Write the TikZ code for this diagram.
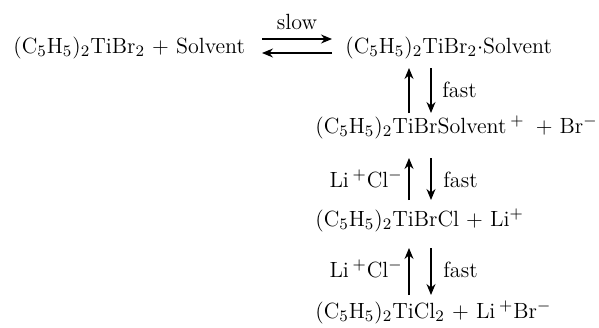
\documentclass[tikz,border=0pt]{standalone}
\usetikzlibrary{arrows.meta,positioning,calc}

\begin{document}
\begin{tikzpicture}[
  x=0.5pt, y=-0.5pt,
  font=\fontsize{11}{13}\selectfont,
  species/.style={inner sep=0pt, anchor=base west},
  cond/.style={inner sep=0pt},
  arrow/.style={-{Stealth[length=5.5pt,width=4.5pt,inset=1.8pt]}, line width=0.6pt},
]
\useasboundingbox (0,0) rectangle (599,327);

\node[species] (titbr) at (13,53) {(C$_5$H$_5$)$_2$TiBr$_2$ + Solvent};
\node[species] (adduct) at (345,53) {(C$_5$H$_5$)$_2$TiBr$_2$$\cdot$Solvent};
\node[species] (cation) at (315,133) {(C$_5$H$_5$)$_2$TiBrSolvent\hspace{2pt}$^+$\hspace{2pt} + Br$^-$};
\node[species] (brcl) at (315,226) {(C$_5$H$_5$)$_2$TiBrCl + Li$^+$};
\node[species] (cl2) at (315,318) {(C$_5$H$_5$)$_2$TiCl$_2$ + Li\,$^+$Br$^-$};

% equilibrium, slow step
\coordinate (fw) at (262,39);
\coordinate (fe) at (332,39);
\draw[arrow] (fw) -- (fe);
\draw[arrow] (adduct.base west) ++(-13,0) -- (titbr.base east -| fw);
\node[cond, anchor=base] (slow) at ($(fw)!0.5!(fe)+(0,-10)$) {slow};

% fast steps
\coordinate (up) at (409,0);
\coordinate (dn) at (431,0);
\draw[arrow] ($(up |- cation.base)+(0,-20)$) -- ($(up |- adduct.base)+(0,15)$);
\draw[arrow] ($(dn |- adduct.base)+(0,15)$) -- ($(dn |- cation.base)+(0,-20)$);
\node[cond, anchor=base west] (fast1) at (442,97) {fast};

\draw[arrow] ($(up |- brcl.base)+(0,-26)$) -- ($(up |- cation.base)+(0,25)$);
\draw[arrow] ($(dn |- cation.base)+(0,25)$) -- ($(dn |- brcl.base)+(0,-26)$);
\node[cond, anchor=base east] (licl1) at (403,187) {Li\,$^+$Cl$^-$};
\node[cond, anchor=base west] (fast2) at (443,187) {fast};

\draw[arrow] ($(up |- cl2.base)+(0,-23)$) -- ($(up |- brcl.base)+(0,22)$);
\draw[arrow] ($(dn |- brcl.base)+(0,22)$) -- ($(dn |- cl2.base)+(0,-23)$);
\node[cond, anchor=base east] (licl2) at (403,277) {Li\,$^+$Cl$^-$};
\node[cond, anchor=base west] (fast3) at (443,277) {fast};

\end{tikzpicture}
\end{document}
